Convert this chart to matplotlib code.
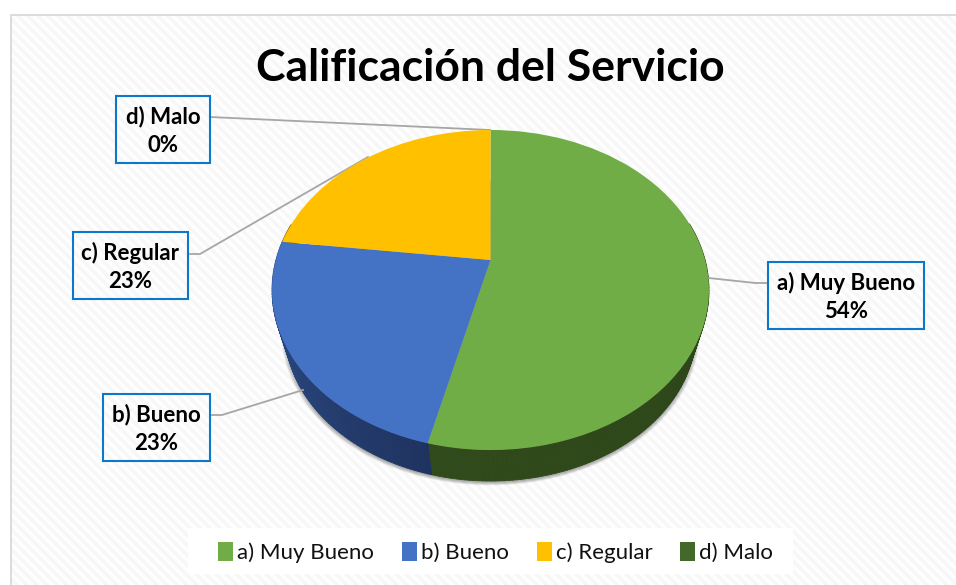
import numpy as np
import matplotlib
matplotlib.use("Agg")
import matplotlib.pyplot as plt
import matplotlib.transforms as mtransforms
from matplotlib.collections import PolyCollection
from matplotlib.patches import Polygon, Rectangle

# ---- data ----
categories = ["a) Muy Bueno", "b) Bueno", "c) Regular", "d) Malo"]
counts = [7, 3, 3, 0]
title = "Calificación del Servicio"

# ---- style ----
colors = ["#70AD47", "#4472C4", "#FFC000", "#43682B"]
wall_colors = [("#304A1B", "#2B4218"), ("#1F3360", "#2F528F"), ("#7F6000", "#7F6000"), ("#2D4519", "#2D4519")]
FONT = "Lato"
W, H = 956, 585
CX, CY = 490.5, 260.0
PERSP, AY, AX = 0.1875, 154.4, 214.6
VANISH_Y, WALL_SCALE = 967.0, 0.94


class Tilt(mtransforms.Transform):
    """Perspective view of the flat unit-radius pie, output in pixels."""
    input_dims = 2
    output_dims = 2
    is_separable = False
    has_inverse = False

    def transform_non_affine(self, values):
        values = np.asarray(values, dtype=float)
        den = 1 + PERSP * values[:, 1]
        return np.column_stack([CX + AX * values[:, 0] / den,
                                CY - AY * values[:, 1] / den])


tilt = Tilt()


def rim(theta_deg):
    t = np.radians(theta_deg)
    return tilt.transform_non_affine(np.column_stack([np.cos(t), np.sin(t)]))


def lower(xy):
    return np.column_stack([CX + WALL_SCALE * (xy[:, 0] - CX),
                            VANISH_Y + WALL_SCALE * (xy[:, 1] - VANISH_Y)])


fig = plt.figure(figsize=(W / 100, H / 100), dpi=100)
ax = fig.add_axes([0, 0, 1, 1])

wedges, _ = ax.pie(counts, colors=colors, startangle=90, counterclock=False,
                   wedgeprops={"linewidth": 0, "zorder": 3})
for w in wedges:
    w.set_transform(tilt + ax.transData)

ax.set_aspect("auto")
ax.set_xlim(0, W)
ax.set_ylim(H, 0)
ax.axis("off")

# background: white page, striped chart area, light border
yy, xx = np.mgrid[0:H, 0:W]
bg = np.where(((xx - yy) % 10) < 5, 0.968, 0.995)
bg[:15, :] = 1.0
bg[:, :11] = 1.0
ax.imshow(bg, cmap="gray", vmin=0, vmax=1, extent=(0, W, H, 0),
          interpolation="nearest", aspect="auto", zorder=0)
ax.set_xlim(0, W)
ax.set_ylim(H, 0)
ax.plot([11, 11, W], [H, 15, 15], color="#D9D9D9", lw=1.3, zorder=0.5,
        solid_joinstyle="miter")

# soft shadow below the pie
ring = lower(rim(np.linspace(0, 360, 361)))
for k in range(8):
    s = 1 + 0.0028 * k
    pts = np.column_stack([CX + s * (ring[:, 0] - CX),
                           330 + s * (ring[:, 1] - 330) + 1.5])
    ax.add_patch(Polygon(pts, closed=True, fc="black", ec="none", alpha=0.045, zorder=1))

# side wall, shaded strip by strip
for w, (c_a, c_b) in zip(wedges, wall_colors):
    if w.theta2 - w.theta1 <= 0:
        continue
    edges = np.arange(w.theta1, w.theta2 + 1.0, 1.0)
    edges[-1] = w.theta2
    polys, cols = [], []
    ca, cb = np.array(matplotlib.colors.to_rgb(c_a)), np.array(matplotlib.colors.to_rgb(c_b))
    for a, b in zip(edges[:-1], edges[1:]):
        if np.sin(np.radians((a + b) / 2)) > 0.25:
            continue
        up = rim(np.array([a, b]))
        low = lower(up)
        polys.append(np.vstack([up, low[::-1]]))
        f = abs(((a + b) / 2 - w.theta2) / (w.theta2 - w.theta1))
        cols.append(ca * (1 - f) + cb * f if w is not wedges[0] else cb * (1 - f) + ca * f)
    if polys:
        ax.add_collection(PolyCollection(polys, facecolors=cols, edgecolors=cols,
                                         linewidths=0.6, zorder=2))

# title
ax.text(490.5, 68, title, family=FONT, weight="bold", fontsize=32, color="black",
        ha="center", va="center", zorder=4)

# leader lines and data callouts
total = sum(counts)
boxes = [(768, 262, 924, 329), (103, 394, 210, 461), (73, 232, 188, 299), (116, 96, 210, 163)]
leaders = [([768, 755, 709], [283, 283, 278]),
           ([210, 222, 303], [415, 415, 390]),
           ([188, 200, 368], [254, 254, 157]),
           ([210, 490], [117, 130])]
for name, v, (x0, y0, x1, y1), (lx, ly) in zip(categories, counts, boxes, leaders):
    ax.plot(lx, ly, color="#A6A6A6", lw=1.3, zorder=2.5, solid_joinstyle="round")
    ax.add_patch(Rectangle((x0, y0), x1 - x0, y1 - y0, fc="none", ec="#0B78CC", lw=1.5, zorder=4))
    xm = (x0 + x1) / 2
    ax.text(xm, y0 + 21, name, family=FONT, weight="bold", fontsize=16,
            ha="center", va="center", color="black", zorder=5)
    ax.text(xm, y0 + 49.5, f"{100 * v / total:.0f}%", family=FONT, weight="bold", fontsize=16,
            ha="center", va="center", color="black", zorder=5)

# legend
ax.add_patch(Rectangle((188, 528), 605, 46, fc="white", ec="none", zorder=4))
leg = ax.legend(wedges, categories, ncol=4, loc="center", frameon=False,
                bbox_to_anchor=(495.5, 552.5), bbox_transform=ax.transData,
                prop={"family": FONT, "size": 16}, labelcolor="#111111",
                handlelength=0.675, handleheight=0.9, handletextpad=0.18, columnspacing=1.26)
leg.set_zorder(5)

fig.savefig("out.png", dpi=100)
